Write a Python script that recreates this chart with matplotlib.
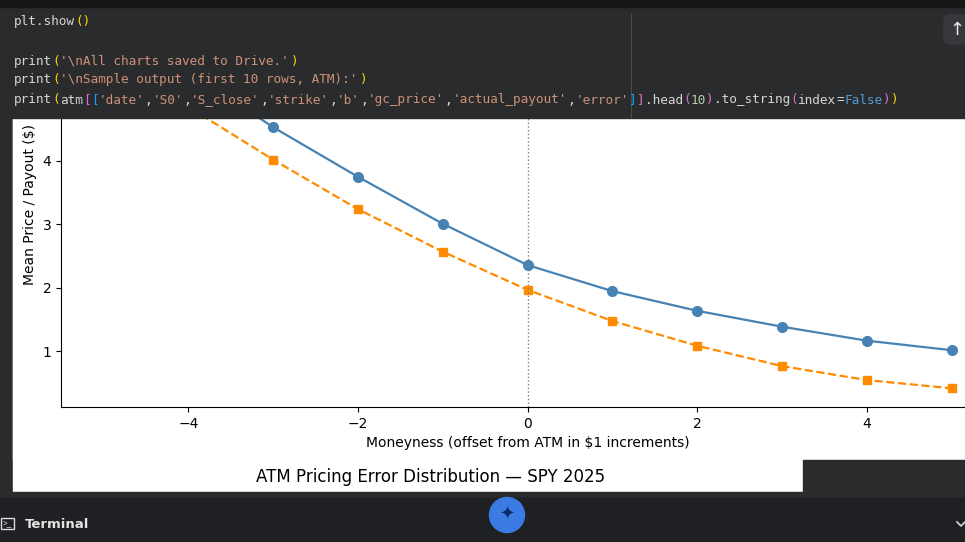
import matplotlib
matplotlib.use('Agg')
import matplotlib.pyplot as plt
from matplotlib.patches import Rectangle, FancyBboxPatch, Circle

# ---- chart data ----
moneyness = [-5, -4, -3, -2, -1, 0, 1, 2, 3, 4, 5]
gc_price = [6.25, 5.42, 4.53, 3.75, 3.01, 2.36, 1.95, 1.64, 1.39, 1.17, 1.02]
actual_payout = [5.75, 4.85, 4.02, 3.24, 2.57, 1.97, 1.48, 1.09, 0.77, 0.55, 0.42]
xlabel = 'Moneyness (offset from ATM in $1 increments)'
ylabel = 'Mean Price / Payout ($)'
next_title = 'ATM Pricing Error Distribution \u2014 SPY 2025'

# notebook code shown above the chart, as (token, colour)
DEF, GOLD, PINK, BLUE, STR, NUM, KW = ('#d4d4d4', '#ffd700', '#da70d6', '#179fff',
                                       '#ce9178', '#b5cea8', '#569cd6')
code_lines = [
    (22, [('plt.show', DEF), ('()', GOLD)]),
    (61, [('print', DEF), ('(', GOLD), ("'\\nAll charts saved to Drive.'", STR), (')', GOLD)]),
    (80, [('print', DEF), ('(', GOLD), ("'\\nSample output (first 10 rows, ATM):'", STR), (')', GOLD)]),
    (100, [('print', DEF), ('(', GOLD), ('atm', DEF), ('[', PINK), ('[', BLUE),
           ("'date'", STR), (',', DEF), ("'S0'", STR), (',', DEF), ("'S_close'", STR), (',', DEF),
           ("'strike'", STR), (',', DEF), ("'b'", STR), (',', DEF), ("'gc_price'", STR), (',', DEF),
           ("'actual_payout'", STR), (',', DEF), ("'error'", STR), (']', BLUE), (']', PINK),
           ('.head', DEF), ('(', PINK), ('10', NUM), (')', PINK), ('.to_string', DEF), ('(', PINK),
           ('index', DEF), ('=', DEF), ('False', KW), (')', PINK), (')', GOLD)]),
]

W, H = 965, 542
fig = plt.figure(figsize=(W / 100, H / 100), dpi=100, facecolor='#2a2b2d')

# background layer: white output panels
bg = fig.add_axes([0, 0, 1, 1], zorder=-1)
bg.set_xlim(0, W)
bg.set_ylim(H, 0)
bg.axis('off')
bg.add_patch(Rectangle((13, 118), W - 13, 342, color='white'))
bg.add_patch(Rectangle((13, 118), 803 - 13, 374, color='white'))

# the chart itself
left, right, top, bottom = 61, 994, 2, 407
ax = fig.add_axes([left / W, 1 - bottom / H, (right - left) / W, (bottom - top) / H])
ax.plot(moneyness, gc_price, color='steelblue', marker='o', markersize=7, linewidth=1.6)
ax.plot(moneyness, actual_payout, color='darkorange', marker='s', markersize=6,
        linewidth=1.6, linestyle='--')
ax.axvline(0, color='gray', linestyle=':', linewidth=1)
ax.set_xlim(-5.5, 5.5)
ax.set_ylim(0.126, 6.5)
ax.set_yticks([1, 2, 3, 4])
ax.set_xlabel(xlabel, fontsize=10)
ax.set_ylabel(ylabel, fontsize=10)
ax.tick_params(labelsize=10)

# overlay layer: notebook chrome
ui = fig.add_axes([0, 0, 1, 1], zorder=10)
ui.set_xlim(0, W)
ui.set_ylim(H, 0)
ui.axis('off')
ui.patch.set_alpha(0)
ui.add_patch(Rectangle((0, 0), W, 118, color='#2a2b2d'))
ui.add_patch(Rectangle((0, 0), W, 7, color='#161616'))
ui.plot([631, 631], [13, 118], color='#4a4b4d', linewidth=0.8)
ui.add_patch(FancyBboxPatch((944, 15), 30, 29, boxstyle='round,pad=0,rounding_size=5',
                            color='#37383b'))
ui.text(957, 30, '\u2191', color='#e8e8e8', fontsize=13, ha='center', va='center')

x0, cw = 14, 7.69
for y, tokens in code_lines:
    i = 0
    for tok, col in tokens:
        ui.text(x0 + i * cw, y, tok, color=col, fontsize=9.2, family='DejaVu Sans Mono',
                ha='left', va='center')
        i += len(tok)

# next figure's title peeking out
ui.add_patch(Rectangle((803, 460), W - 803, 32, color='#2a2b2d'))
ui.text(431, 477, next_title, fontsize=12, ha='center', va='center', color='black')

# bottom terminal bar
ui.add_patch(Rectangle((0, 492), W, 6, color='#2a2b2d'))
ui.add_patch(Rectangle((0, 498), W, H - 498, color='#1f2023'))
ui.add_patch(Rectangle((1, 518), 13, 11, fill=False, edgecolor='#d8d8d8', linewidth=1))
ui.text(3, 524, '>_', color='#d8d8d8', fontsize=5.5, ha='left', va='center', family='DejaVu Sans Mono')
ui.text(25, 524, 'Terminal', color='#e3e3e3', fontsize=9.5, fontweight='bold', ha='left', va='center')
ui.plot([957, 961, 965], [522, 526, 522], color='#d8d8d8', linewidth=1.2)
ui.add_patch(Circle((507, 515), 17.5, color='#3a7ce4'))
ui.text(507, 515, '\u2726', color='#0d2a66', fontsize=13, ha='center', va='center')

fig.savefig('out.png', dpi=100, facecolor=fig.get_facecolor())
